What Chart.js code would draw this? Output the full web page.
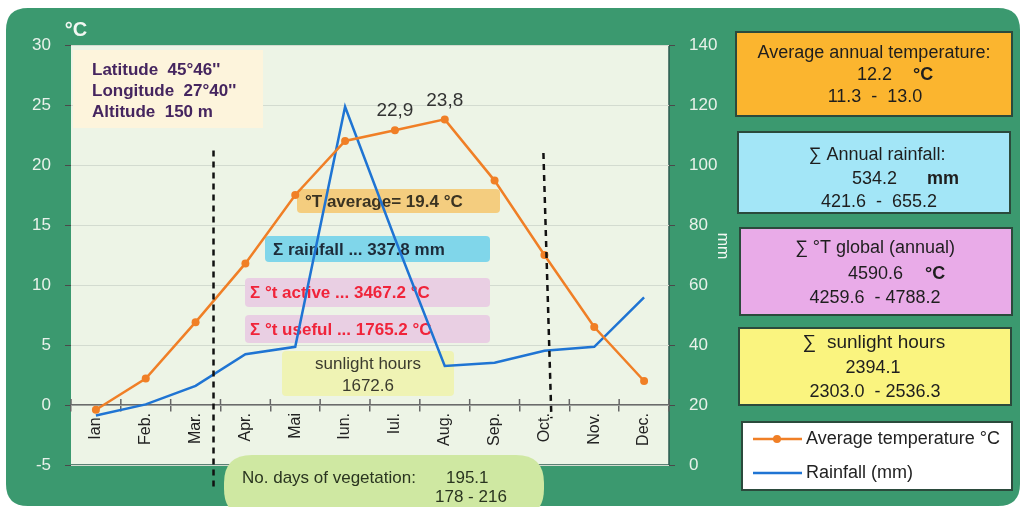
<!DOCTYPE html>
<html><head><meta charset="utf-8">
<script src="https://cdn.jsdelivr.net/npm/chart.js@4"></script>
<style>html,body{margin:0;padding:0;background:#fff;overflow:hidden}#wrap{width:1022px;height:507px;position:relative}</style>
</head><body><div id="wrap"><canvas id="c" width="1022" height="507"></canvas></div>
<script>
// ---- data ----
const months = ['Ian.','Feb.','Mar.','Apr.','Mai','Iun.','Iul.','Aug.','Sep.','Oct.','Nov.','Dec.'];
const avgTemperature = [-0.4, 2.2, 6.9, 11.8, 17.5, 22.0, 22.9, 23.8, 18.7, 12.5, 6.5, 2.0];
const rainfall = [16.5, 20.2, 26.4, 36.9, 39.4, 119.4, 75.5, 33.0, 34.1, 38.1, 39.4, 55.9];
const tempAxis = {min: -5, max: 30, step: 5};
const rainAxis = {min: 0, max: 140, step: 20};
const pointLabels = ['', '', '', '', '', '', '22,9', '23,8', '', '', '', ''];
const vegetationStart = [2.36, 2.36];   // x index (top, bottom)
const vegetationEnd = [8.98, 9.14];

const FONT = '"Liberation Sans", Arial, sans-serif';
const GREEN = '#3b996f';
const ORANGE = '#f07f26';
const BLUE = '#1f74d3';

function rrect(ctx, x, y, w, h, r) {
  ctx.beginPath();
  ctx.moveTo(x + r, y);
  ctx.lineTo(x + w - r, y); ctx.quadraticCurveTo(x + w, y, x + w, y + r);
  ctx.lineTo(x + w, y + h - r); ctx.quadraticCurveTo(x + w, y + h, x + w - r, y + h);
  ctx.lineTo(x + r, y + h); ctx.quadraticCurveTo(x, y + h, x, y + h - r);
  ctx.lineTo(x, y + r); ctx.quadraticCurveTo(x, y, x + r, y);
  ctx.closePath();
}
function box(ctx, x, y, w, h, fill, stroke, r) {
  rrect(ctx, x, y, w, h, r || 0);
  ctx.fillStyle = fill; ctx.fill();
  if (stroke) { ctx.lineWidth = 2; ctx.strokeStyle = stroke; ctx.stroke(); }
}
function txt(ctx, s, x, y, font, color, align) {
  ctx.font = font; ctx.fillStyle = color; ctx.textAlign = align || 'left'; ctx.textBaseline = 'middle';
  ctx.fillText(s, x, y);
}

const decor = {
  id: 'decor',
  beforeDraw(chart) {
    const ctx = chart.ctx, a = chart.chartArea;
    ctx.save();
    ctx.fillStyle = '#ffffff'; ctx.fillRect(0, 0, chart.width, chart.height);
    rrect(ctx, 6, 8, 1014, 498, 22); ctx.fillStyle = GREEN; ctx.fill();
    ctx.fillStyle = '#edf4e6'; ctx.fillRect(a.left, a.top, a.right - a.left, a.bottom - a.top);
    ctx.strokeStyle = '#2c5a50'; ctx.lineWidth = 1.5;
    ctx.beginPath(); ctx.moveTo(a.left, a.bottom); ctx.lineTo(a.right, a.bottom); ctx.lineTo(a.right, a.top); ctx.stroke();
    ctx.restore();
  },
  beforeDatasetsDraw(chart) {
    const ctx = chart.ctx, x = chart.scales.x, y = chart.scales.y;
    ctx.save();
    // upper half of the category tick marks on the zero line
    ctx.strokeStyle = '#666'; ctx.lineWidth = 1.5;
    const y0 = y.getPixelForValue(0);
    for (let i = 0; i <= months.length; i++) {
      const px = x.getPixelForValue(i - 0.5);
      ctx.beginPath(); ctx.moveTo(px, y0 - 6); ctx.lineTo(px, y0); ctx.stroke();
    }
    // location box
    box(ctx, 73, 50, 190, 78, '#fdf4dc');
    const lf = 'bold 17px ' + FONT, lc = '#45255f';
    txt(ctx, 'Latitude  45°46\'\'', 92, 70, lf, lc);
    txt(ctx, 'Longitude  27°40\'\'', 92, 91, lf, lc);
    txt(ctx, 'Altitude  150 m', 92, 112, lf, lc);
    // vegetation-period boxes
    box(ctx, 297, 189, 203, 24, '#f4cd7f', null, 4);
    txt(ctx, '°T average= 19.4 °C', 305, 202, 'bold 17px ' + FONT, '#3a3322');
    box(ctx, 265, 236, 225, 26, '#80d6ea', null, 4);
    txt(ctx, 'Σ rainfall ... 337.8 mm', 273, 250, 'bold 17px ' + FONT, '#1d2c3a');
    box(ctx, 245, 278, 245, 29, '#e9cfe3', null, 4);
    txt(ctx, 'Σ °t active ... 3467.2 °C', 250, 293, 'bold 17px ' + FONT, '#f0243a');
    box(ctx, 245, 315, 245, 28, '#e9cfe3', null, 4);
    txt(ctx, 'Σ °t useful ... 1765.2 °C', 250, 330, 'bold 17px ' + FONT, '#f0243a');
    box(ctx, 282, 351, 172, 45, '#eff3b4', null, 4);
    txt(ctx, 'sunlight hours', 368, 364, '17px ' + FONT, '#3b3b2e', 'center');
    txt(ctx, '1672.6', 368, 386, '17px ' + FONT, '#3b3b2e', 'center');
    // vegetation days pill
    box(ctx, 224, 455, 320, 62, '#cfe8a2', null, 28);
    txt(ctx, 'No. days of vegetation:', 242, 478, '17px ' + FONT, '#2a3520');
    txt(ctx, '195.1', 446, 478, '17px ' + FONT, '#2a3520');
    txt(ctx, '178 - 216', 435, 497, '17px ' + FONT, '#2a3520');
    ctx.restore();
  },
  afterDatasetsDraw(chart) {
    const ctx = chart.ctx, x = chart.scales.x, y = chart.scales.y;
    ctx.save();
    // vegetation limits
    ctx.strokeStyle = '#111'; ctx.lineWidth = 2.5; ctx.setLineDash([6, 5]);
    [[vegetationStart, 21.2, -7.1], [vegetationEnd, 21.0, -1.1]].forEach(([xs, t, b]) => {
      ctx.beginPath();
      ctx.moveTo(x.getPixelForValue(xs[0]), y.getPixelForValue(t));
      ctx.lineTo(x.getPixelForValue(xs[1]), y.getPixelForValue(b));
      ctx.stroke();
    });
    ctx.setLineDash([]);
    // point labels
    const meta = chart.getDatasetMeta(0);
    meta.data.forEach((p, i) => {
      if (pointLabels[i]) txt(ctx, pointLabels[i], p.x, p.y - 19, '19px ' + FONT, '#333', 'center');
    });
    ctx.restore();
  },
  afterDraw(chart) {
    const ctx = chart.ctx;
    ctx.save();
    const bd = '#2b4a3c', f = '18px ' + FONT, fb = 'bold 18px ' + FONT, c = '#1e1e1e';
    box(ctx, 736, 32, 276, 84, '#fbb52f', bd);
    txt(ctx, 'Average annual temperature:', 874, 53, f, c, 'center');
    txt(ctx, '12.2', 857, 75, f, c); txt(ctx, '°C', 913, 75, fb, c);
    txt(ctx, '11.3  -  13.0', 875, 97, f, c, 'center');
    box(ctx, 738, 132, 272, 81, '#a3e6f7', bd);
    txt(ctx, '∑ Annual rainfall:', 877, 155, f, c, 'center');
    txt(ctx, '534.2', 852, 179, f, c); txt(ctx, 'mm', 927, 179, fb, c);
    txt(ctx, '421.6  -  655.2', 879, 202, f, c, 'center');
    box(ctx, 740, 228, 272, 87, '#e9abe8', bd);
    txt(ctx, '∑ °T global (annual)', 875, 248, f, c, 'center');
    txt(ctx, '4590.6', 848, 274, f, c); txt(ctx, '°C', 925, 274, fb, c);
    txt(ctx, '4259.6  - 4788.2', 875, 298, f, c, 'center');
    box(ctx, 739, 328, 272, 77, '#faf47f', bd);
    txt(ctx, '∑  sunlight hours', 874, 343, '19px ' + FONT, c, 'center');
    txt(ctx, '2394.1', 873, 368, f, c, 'center');
    txt(ctx, '2303.0  - 2536.3', 875, 392, f, c, 'center');
    // legend
    box(ctx, 742, 422, 270, 68, '#ffffff', bd);
    ctx.lineWidth = 2.5; ctx.strokeStyle = ORANGE;
    ctx.beginPath(); ctx.moveTo(753, 439); ctx.lineTo(802, 439); ctx.stroke();
    ctx.fillStyle = ORANGE; ctx.beginPath(); ctx.arc(777, 439, 4, 0, Math.PI * 2); ctx.fill();
    txt(ctx, chart.data.datasets[0].label, 806, 439, f, '#222');
    ctx.strokeStyle = BLUE;
    ctx.beginPath(); ctx.moveTo(753, 473); ctx.lineTo(802, 473); ctx.stroke();
    txt(ctx, chart.data.datasets[1].label, 806, 473, f, '#222');
    // axis titles
    txt(ctx, '°C', 76, 30, 'bold 20px ' + FONT, '#f2f7f2', 'center');
    ctx.translate(722, 246); ctx.rotate(Math.PI / 2);
    txt(ctx, 'mm', 0, 0, '16px ' + FONT, '#f2f7f2', 'center');
    ctx.restore();
  }
};

new Chart(document.getElementById('c'), {
  type: 'line',
  data: {
    labels: months,
    datasets: [
      {label: 'Average temperature °C', data: avgTemperature, yAxisID: 'y', borderColor: ORANGE, backgroundColor: ORANGE,
       borderWidth: 2.5, pointRadius: 4, pointBorderWidth: 0, pointBackgroundColor: ORANGE, tension: 0},
      {label: 'Rainfall (mm)', data: rainfall, yAxisID: 'y2', borderColor: BLUE, backgroundColor: BLUE,
       borderWidth: 2.5, pointRadius: 0, tension: 0}
    ]
  },
  options: {
    responsive: false, animation: false, devicePixelRatio: 1,
    layout: {padding: {top: 45, bottom: 42, left: 0, right: 292}},
    plugins: {legend: {display: false}, tooltip: {enabled: false}},
    scales: {
      x: {
        position: {y: 0}, offset: true,
        grid: {offset: true, drawOnChartArea: false, drawTicks: true, tickLength: 6, color: '#666', lineWidth: 1.5},
        border: {display: true, color: '#6b6b6b', width: 1.5},
        ticks: {minRotation: 90, maxRotation: 90, padding: 2, color: '#222', font: {family: FONT, size: 16}, autoSkip: false}
      },
      y: {
        position: 'left', min: tempAxis.min, max: tempAxis.max,
        afterFit(s) { s.width = 71; },
        ticks: {stepSize: tempAxis.step, color: '#e8f1ea', padding: 14, font: {family: FONT, size: 17}},
        grid: {color: '#d3dbd0', tickColor: '#4a4a4a', tickLength: 6, lineWidth: 1},
        border: {display: false}
      },
      y2: {
        position: 'right', min: rainAxis.min, max: rainAxis.max,
        afterFit(s) { s.width = 61; },
        ticks: {stepSize: rainAxis.step, color: '#e8f1ea', padding: 14, font: {family: FONT, size: 17}},
        grid: {drawOnChartArea: false, tickColor: '#4a4a4a', tickLength: 6},
        border: {display: false}
      }
    }
  },
  plugins: [decor]
});
</script>
</body></html>
